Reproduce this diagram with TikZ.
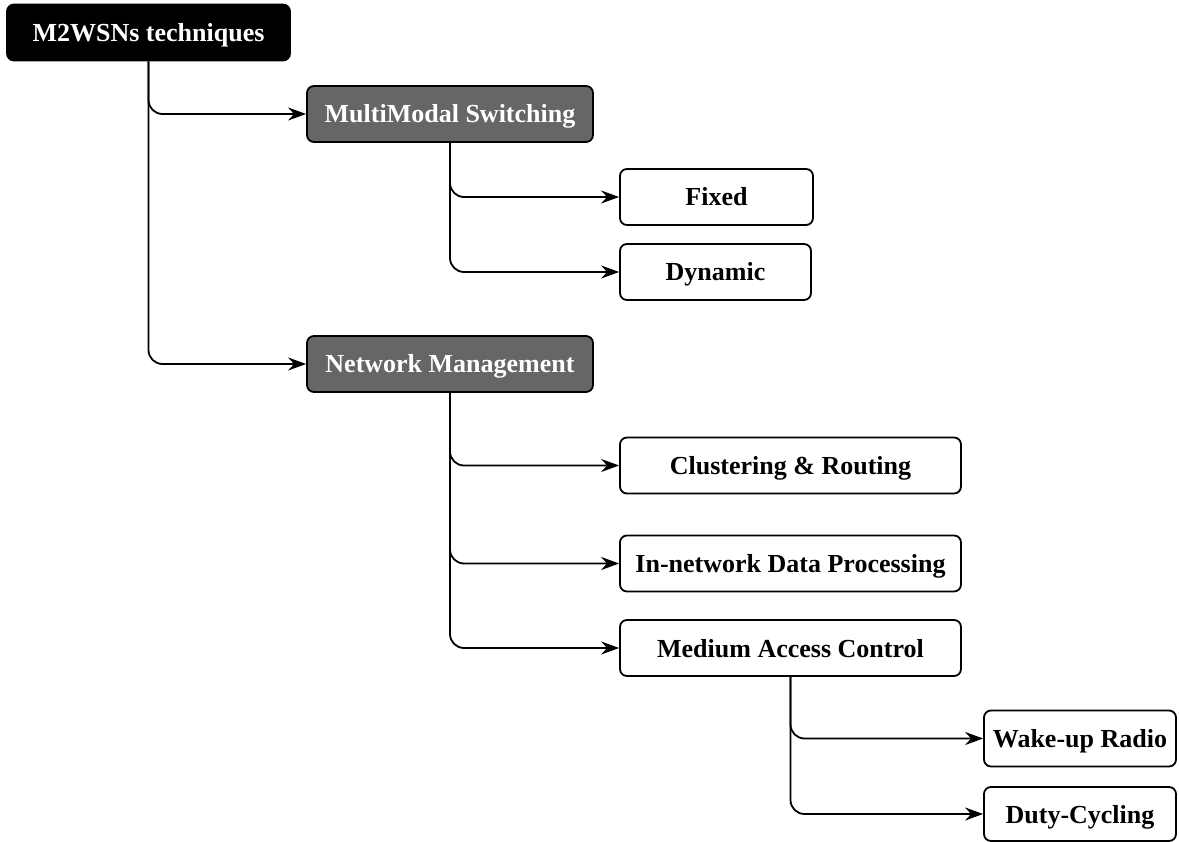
\documentclass[tikz,border=0pt]{standalone}
\usepackage{fontspec}
\setmainfont{Liberation Serif}
\usetikzlibrary{arrows.meta}
\definecolor{catgray}{HTML}{666666}
\begin{document}
\begin{tikzpicture}[x=1pt,y=-1pt,
  box/.style={draw=black, line width=1.8pt, rounded corners=7pt,
    font=\fontsize{26}{30}\selectfont\bfseries, minimum height=56pt,
    text height=18pt, text depth=0pt, inner sep=0pt, align=center},
  rootbox/.style={box, fill=black, text=white},
  catbox/.style={box, fill=catgray, text=white},
  leafbox/.style={box, fill=white},
  link/.style={line width=1.8pt, rounded corners=14pt,
    -{Stealth[length=18pt,width=13pt,inset=6pt]}}]
\useasboundingbox (0,0) rectangle (1179,842);

% tree nodes
\node[rootbox, minimum width=283pt] (root) at (148.5,32.5) {M2WSNs techniques};
\node[catbox, minimum width=286pt] (mms) at (450,114) {MultiModal Switching};
\node[leafbox, minimum width=193pt] (fixed) at (716.5,197) {Fixed};
\node[leafbox, minimum width=191pt] (dyn) at (715.5,272) {Dynamic};
\node[catbox, minimum width=286pt] (nm) at (450,364) {Network Management};
\node[leafbox, minimum width=341pt] (clu) at (790.5,465.5) {Clustering \& Routing};
\node[leafbox, minimum width=341pt] (inp) at (790.5,563.5) {In-network Data Processing};
\node[leafbox, minimum width=341pt] (mac) at (790.5,648) {Medium Access Control};
\node[leafbox, minimum width=192pt] (wake) at (1080,738.5) {Wake-up Radio};
\node[leafbox, minimum width=192pt, minimum height=54pt] (duty) at (1080,814) {Duty-Cycling};

% connectors
\draw[link] (root.south) |- (mms.west);
\draw[link] (root.south) |- (nm.west);
\draw[link] (mms.south) |- (fixed.west);
\draw[link] (mms.south) |- (dyn.west);
\draw[link] (nm.south) |- (clu.west);
\draw[link] (nm.south) |- (inp.west);
\draw[link] (nm.south) |- (mac.west);
\draw[link] (mac.south) |- (wake.west);
\draw[link] (mac.south) |- (duty.west);
\end{tikzpicture}
\end{document}
